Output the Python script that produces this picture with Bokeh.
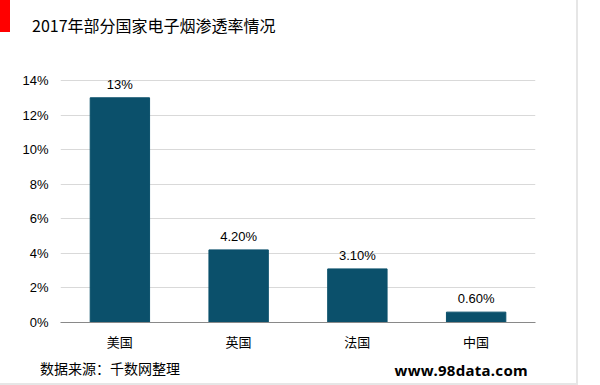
from bokeh.plotting import figure
from bokeh.models import ColumnDataSource, FixedTicker, PrintfTickFormatter, Div
from bokeh.layouts import column
from bokeh.core.properties import value
from bokeh.embed import file_html
from bokeh.resources import INLINE

title_text = "2017年部分国家电子烟渗透率情况"
categories = ["美国", "英国", "法国", "中国"]
values = [13, 4.2, 3.1, 0.6]
value_labels = ["13%", "4.20%", "3.10%", "0.60%"]
y_ticks = [0, 2, 4, 6, 8, 10, 12, 14]
source_text = "数据来源：千数网整理"
site_text = "www.98data.com"

PW = 576          # panel width
HEAD_H = 45
FOOT_H = 27
FL, FR, FT, FB = 60, 41, 26, 34
FRAME_H = 251     # 14% sits 242px above the baseline; a little head-room above it
Y_END = 14 * FRAME_H / 242.0

header = Div(
    text=(
        f'<div style="position:relative;width:{PW}px;height:{HEAD_H}px;">'
        '<div style="position:absolute;left:0;top:0;width:10px;height:32px;background:#FF0000;"></div>'
        '<div style="position:absolute;left:32px;top:15px;font-family:\'Noto Sans CJK SC\';'
        'font-size:16px;line-height:20px;color:#000000;white-space:nowrap;">'
        f'{title_text}</div></div>'
    ),
    width=PW, height=HEAD_H, margin=0,
)

p = figure(x_range=categories, y_range=(0, Y_END), width=PW, height=FT + FRAME_H + FB,
           output_backend="svg", toolbar_location=None,
           min_border_left=FL, min_border_right=FR, min_border_top=FT, min_border_bottom=FB)
p.background_fill_color = "white"
p.border_fill_color = "white"
p.outline_line_color = None

src = ColumnDataSource(dict(cat=categories, val=values, lbl=value_labels))
p.vbar(x="cat", top="val", width=0.5, source=src, fill_color="#0B506B", line_color="#0B506B")
p.text(x="cat", y="val", text="lbl", source=src, text_align="center", text_baseline="bottom",
       y_offset=-6, text_font=value("Liberation Sans"), text_font_size="13px", text_color="#000000")

p.xgrid.grid_line_color = None
p.ygrid.grid_line_color = "#D9D9D9"
p.ygrid.grid_line_width = 1

p.yaxis.ticker = FixedTicker(ticks=y_ticks)
p.yaxis.formatter = PrintfTickFormatter(format="%d%%")
p.yaxis.axis_line_color = None
p.yaxis.major_tick_line_color = None
p.yaxis.minor_tick_line_color = None
p.yaxis.major_label_text_font = "Liberation Sans"
p.yaxis.major_label_text_font_size = "13px"
p.yaxis.major_label_text_color = "#000000"
p.yaxis.major_label_standoff = 6

p.xaxis.axis_line_color = "#898989"
p.xaxis.axis_line_width = 1
p.xaxis.major_tick_line_color = None
p.xaxis.minor_tick_line_color = None
p.xaxis.major_label_text_font = "Noto Sans CJK SC"
p.xaxis.major_label_text_font_size = "13px"
p.xaxis.major_label_text_color = "#000000"
p.xaxis.major_label_standoff = 3

footer = Div(
    text=(
        f'<div style="position:relative;width:{PW}px;height:{FOOT_H}px;">'
        '<div style="position:absolute;left:40px;top:4px;font-family:\'Noto Sans CJK SC\';'
        'font-size:14px;line-height:16px;color:#000000;white-space:nowrap;">'
        f'{source_text}</div>'
        '<div style="position:absolute;right:48px;top:6px;font-family:\'Noto Sans\';font-weight:bold;'
        'font-size:15px;line-height:16px;letter-spacing:0.3px;color:#000000;white-space:nowrap;">'
        f'{site_text}</div></div>'
    ),
    width=PW, height=FOOT_H, margin=0,
)

layout = column(header, p, footer, spacing=0,
                styles={"border-right": "2px solid #E6E6E6",
                        "border-bottom": "2px solid #E6E6E6",
                        "background": "#FFFFFF"})

open("out.html", "w").write(file_html(layout, INLINE))
